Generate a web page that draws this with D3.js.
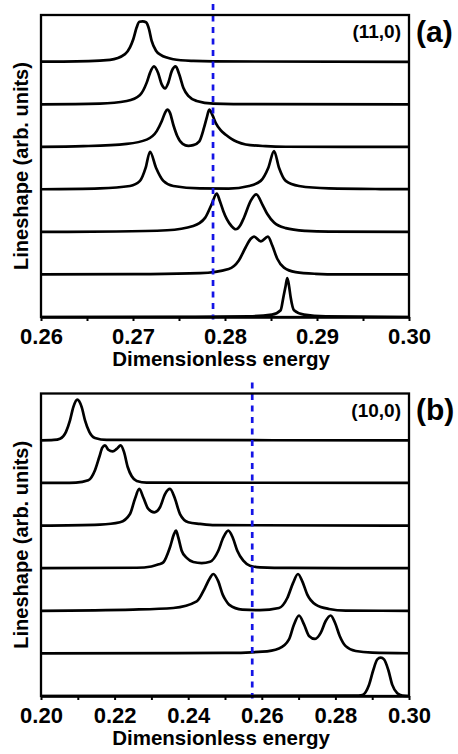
<!DOCTYPE html>
<html>
<head>
<meta charset="utf-8">
<script src="https://cdn.jsdelivr.net/npm/d3@7/dist/d3.min.js"></script>
<style>
  body { margin: 0; background: #fff; }
  svg { display: block; }
  text { font-family: "Liberation Sans", Arial, Helvetica, sans-serif; font-weight: bold; fill: #000; }
</style>
</head>
<body>
<div id="chart"></div>
<script>
// Lineshapes: [energy, amplitude], listed bottom curve first.
const curvesA = [
    [[0.26,0],[0.275,0.003],[0.2826,0.016],[0.2851,0.055],[0.28605,0.16],[0.28634,0.46],[0.28659,0.73],[0.28677,0.915],[0.28696,0.73],[0.28714,0.46],[0.2875,0.16],[0.28859,0.055],[0.29095,0.016],[0.30,0]],
    [[0.26,0],[0.2719,0.008],[0.2773,0.03],[0.2804,0.13],[0.2815,0.33],[0.28225,0.64],[0.2828,0.84],[0.28315,0.89],[0.2839,0.78],[0.28467,0.89],[0.28514,0.68],[0.28568,0.37],[0.28641,0.16],[0.28768,0.055],[0.28986,0.016],[0.2925,0.003],[0.30,0]],
    [[0.26,0],[0.2682,0.01],[0.2737,0.04],[0.27655,0.14],[0.27783,0.33],[0.27855,0.65],[0.2791,0.9],[0.27945,0.72],[0.2798,0.5],[0.2802,0.3],[0.2807,0.14],[0.28116,0.063],[0.2817,0.17],[0.28207,0.34],[0.28279,0.73],[0.2834,0.885],[0.28405,0.65],[0.2846,0.42],[0.28533,0.22],[0.2866,0.09],[0.28877,0.025],[0.2913,0.005],[0.30,0]],
    [[0.26,0.003],[0.2664,0.023],[0.26967,0.08],[0.27076,0.2],[0.27138,0.51],[0.27185,0.885],[0.2725,0.51],[0.2733,0.2],[0.27438,0.08],[0.27728,0.023],[0.2804,0.02],[0.28261,0.08],[0.28388,0.2],[0.28471,0.51],[0.28533,0.9],[0.28587,0.51],[0.2866,0.2],[0.28804,0.08],[0.2913,0.023],[0.2969,0.008],[0.30,0.005]],
    [[0.26,0],[0.2646,0.016],[0.26932,0.07],[0.27149,0.17],[0.27258,0.37],[0.27312,0.6],[0.27348,0.8],[0.27373,0.875],[0.27402,0.8],[0.27438,0.52],[0.27482,0.25],[0.2754,0.07],[0.27601,0.023],[0.27655,0.04],[0.27721,0.13],[0.27772,0.45],[0.27801,0.68],[0.27829,0.875],[0.27865,0.74],[0.279,0.56],[0.2795,0.4],[0.28005,0.29],[0.2807,0.19],[0.2813,0.12],[0.28225,0.056],[0.28442,0.016],[0.2866,0.003],[0.30,0]],
    [[0.26,0],[0.2664,0.016],[0.26932,0.078],[0.27076,0.22],[0.27149,0.51],[0.27185,0.74],[0.27228,0.89],[0.27272,0.74],[0.27312,0.47],[0.27348,0.376],[0.27384,0.51],[0.27421,0.78],[0.27464,0.89],[0.27503,0.7],[0.27547,0.39],[0.27601,0.196],[0.27692,0.078],[0.27873,0.016],[0.28326,0.003],[0.30,0]],
    [[0.26,0.003],[0.26242,0.006],[0.2675,0.047],[0.26913,0.18],[0.26967,0.34],[0.27003,0.53],[0.2704,0.81],[0.27069,0.94],[0.27105,0.95],[0.27141,0.93],[0.27174,0.77],[0.27203,0.49],[0.2725,0.26],[0.27301,0.16],[0.27438,0.06],[0.27655,0.02],[0.27873,0.008],[0.30,0]]
];

const curvesB = [
    [[0.20,0],[0.2853,0.01],[0.28731,0.023],[0.28913,0.26],[0.2903,0.61],[0.29139,0.86],[0.29231,0.9],[0.29321,0.86],[0.29438,0.61],[0.29546,0.26],[0.29682,0.063],[0.29818,0.008],[0.30,0]],
    [[0.20,0],[0.25,0.01],[0.26014,0.04],[0.26467,0.117],[0.26739,0.33],[0.26875,0.68],[0.27011,0.89],[0.27147,0.68],[0.27283,0.41],[0.27446,0.34],[0.27601,0.48],[0.27736,0.76],[0.27872,0.89],[0.27989,0.72],[0.28117,0.41],[0.2828,0.17],[0.28552,0.055],[0.29003,0.016],[0.30,0.003]],
    [[0.20,0],[0.22508,0.028],[0.23595,0.066],[0.24231,0.22],[0.24457,0.54],[0.24592,0.77],[0.24682,0.864],[0.24818,0.69],[0.24938,0.38],[0.25018,0.25],[0.25109,0.145],[0.2547,0.027],[0.25951,0.015],[0.26467,0.066],[0.26693,0.3],[0.26848,0.65],[0.26984,0.864],[0.27101,0.69],[0.27236,0.38],[0.27465,0.145],[0.27826,0.043],[0.2828,0.005],[0.30,0]],
    [[0.20,0],[0.226,0.01],[0.23,0.04],[0.232,0.09],[0.23323,0.136],[0.23505,0.49],[0.23614,0.8],[0.23668,0.88],[0.23731,0.72],[0.23823,0.41],[0.23959,0.24],[0.24139,0.145],[0.24367,0.12],[0.24592,0.15],[0.24818,0.41],[0.24954,0.72],[0.2509,0.88],[0.25209,0.72],[0.25334,0.41],[0.25497,0.176],[0.25679,0.059],[0.25951,0.02],[0.26766,0.005],[0.30,0]],
    [[0.20,0],[0.21603,0.023],[0.22147,0.078],[0.22418,0.27],[0.22554,0.63],[0.22671,0.86],[0.2278,0.66],[0.22916,0.39],[0.23079,0.31],[0.23234,0.43],[0.2337,0.74],[0.23505,0.86],[0.23641,0.63],[0.23777,0.27],[0.24003,0.078],[0.24321,0.04],[0.24728,0.01],[0.30,0]],
    [[0.20,0],[0.2095,0.01],[0.21285,0.063],[0.21467,0.3],[0.21584,0.61],[0.21666,0.83],[0.21739,0.884],[0.21829,0.78],[0.21948,0.74],[0.22057,0.8],[0.22166,0.884],[0.22255,0.73],[0.22356,0.375],[0.22465,0.157],[0.22601,0.047],[0.22872,0.008],[0.30,0]],
    [[0.20,0],[0.2035,0.01],[0.20516,0.04],[0.20679,0.2],[0.20788,0.47],[0.20878,0.78],[0.20986,0.955],[0.21106,0.78],[0.21196,0.47],[0.21313,0.2],[0.21467,0.055],[0.21785,0.01],[0.30,0]]
];

// axis ticks
const majorTicksA = [0.26, 0.27, 0.28, 0.29, 0.30];
const minorTicksA = [0.265, 0.275, 0.285, 0.295];
const majorTicksB = [0.20, 0.22, 0.24, 0.26, 0.28, 0.30];
const minorTicksB = [0.21, 0.23, 0.25, 0.27, 0.29];

// dashed reference energies
const markA = 0.2787;
const markB = 0.2574;

const tubeLabels = ["(11,0)", "(10,0)"];
const panelLabels = ["(a)", "(b)"];

const W = 458, H = 754;
const left = 41, right = 409;

const svg = d3.select("#chart").append("svg")
    .attr("width", W)
    .attr("height", H);

function drawPanel(opt) {
    const g = svg.append("g");

    const x = d3.scaleLinear().domain(opt.domain).range([left, right]);
    const y = d3.scaleLinear().domain([0, 7.1]).range([opt.bottom, opt.top]);

    // stacked lineshapes, each lifted by one unit
    const line = (k) => d3.line()
        .x(d => x(d[0]))
        .y(d => y(d[1] + k))
        .curve(d3.curveMonotoneX);

    g.selectAll(".curve")
        .data(opt.curves)
        .enter().append("path")
        .attr("class", "curve")
        .attr("d", (d, k) => line(k)(d))
        .attr("fill", "none")
        .attr("stroke", "#000")
        .attr("stroke-width", 2.7)
        .attr("stroke-linejoin", "round");

    // dashed marker
    g.append("line")
        .attr("x1", x(opt.mark)).attr("x2", x(opt.mark))
        .attr("y1", y(7.36)).attr("y2", y(-0.06))
        .attr("stroke", "#1414e6")
        .attr("stroke-width", 2.7)
        .attr("stroke-dasharray", "6,5.5");

    // frame
    g.append("rect")
        .attr("x", left).attr("y", opt.top)
        .attr("width", right - left).attr("height", opt.bottom - opt.top)
        .attr("fill", "none")
        .attr("stroke", "#000")
        .attr("stroke-width", 2.3);

    const fmt = d3.format(".2f");
    const axis = d3.axisBottom(x)
        .tickValues(opt.major.concat(opt.minor))
        .tickSize(4)
        .tickSizeOuter(0)
        .tickPadding(7.5)
        .tickFormat(d => opt.major.includes(d) ? fmt(d) : "");

    const ax = g.append("g")
        .attr("transform", `translate(0,${opt.bottom})`)
        .call(axis);
    ax.select(".domain").attr("stroke-width", 2.7);
    ax.selectAll(".tick line").attr("stroke-width", 2);
    ax.selectAll(".tick text")
        .attr("font-size", "22px")
        .attr("font-family", "\"Liberation Sans\", Arial, sans-serif")
        .attr("font-weight", "bold")
        .attr("fill", "#000");

    g.append("text")
        .attr("x", 221)
        .attr("y", opt.bottom + 49)
        .attr("text-anchor", "middle")
        .attr("font-size", "20.5px")
        .text("Dimensionless energy");

    g.append("text")
        .attr("transform", `translate(28,${(opt.top + opt.bottom) / 2}) rotate(-90)`)
        .attr("text-anchor", "middle")
        .attr("font-size", "20px")
        .text("Lineshape (arb. units)");

    g.append("text")
        .attr("x", right - 8)
        .attr("y", opt.top + 23)
        .attr("text-anchor", "end")
        .attr("font-size", "19px")
        .text(opt.tube);

    g.append("text")
        .attr("x", right + 7)
        .attr("y", opt.top + 26.5)
        .attr("font-size", "30px")
        .text(opt.tag);
}

drawPanel({
    domain: [0.26, 0.30], top: 15, bottom: 317,
    curves: curvesA, major: majorTicksA, minor: minorTicksA,
    mark: markA, tube: tubeLabels[0], tag: panelLabels[0]
});

drawPanel({
    domain: [0.20, 0.30], top: 393.5, bottom: 696,
    curves: curvesB, major: majorTicksB, minor: minorTicksB,
    mark: markB, tube: tubeLabels[1], tag: panelLabels[1]
});
</script>
</body>
</html>
